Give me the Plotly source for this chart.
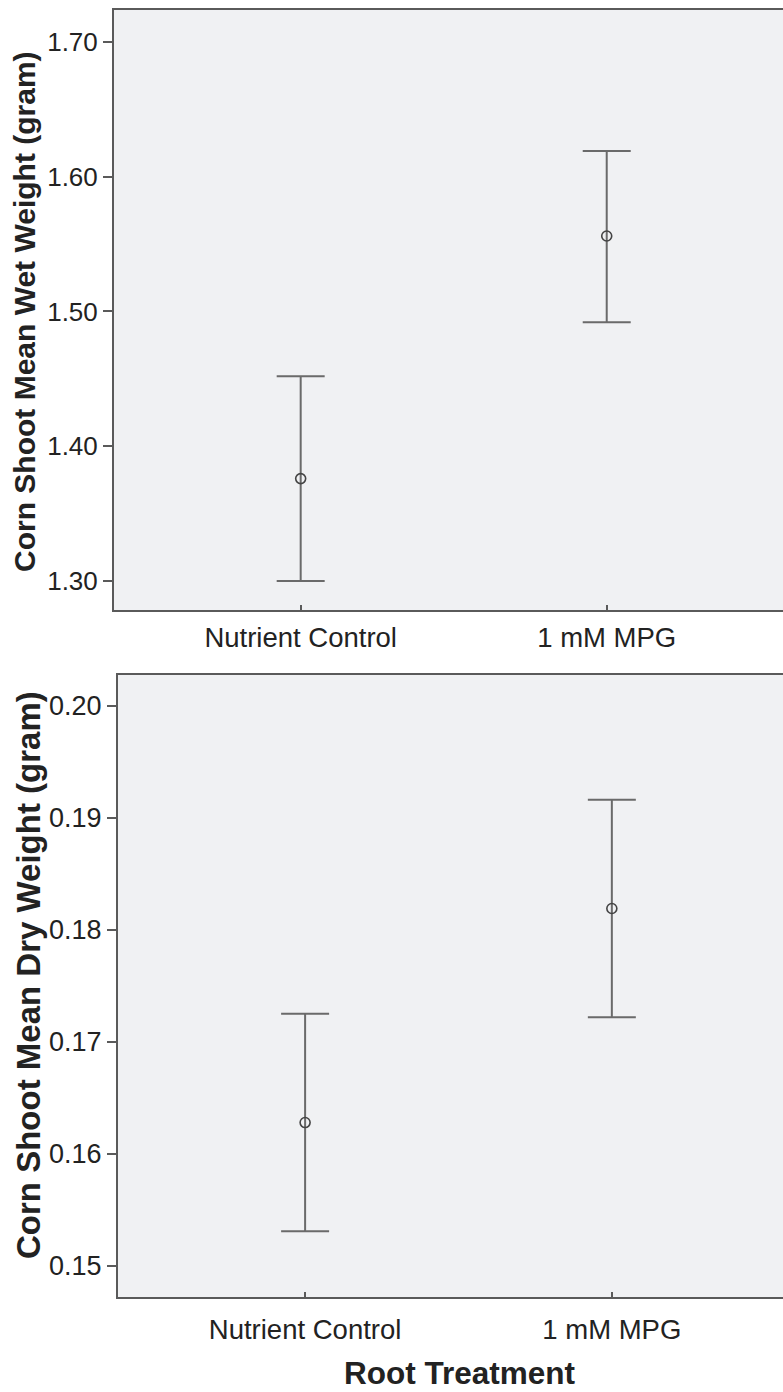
import plotly.graph_objects as go

# Treatment groups and their means with 95% CI bounds
treatments = ["Nutrient Control", "1 mM MPG"]

wet_mean = [1.376, 1.556]
wet_upper = [1.452, 1.619]
wet_lower = [1.300, 1.492]

dry_mean = [0.1628, 0.1819]
dry_upper = [0.1725, 0.1916]
dry_lower = [0.1531, 0.1722]

wet_ticks = [1.30, 1.40, 1.50, 1.60, 1.70]
dry_ticks = [0.15, 0.16, 0.17, 0.18, 0.19, 0.20]

W, H = 783, 1392
FONT = "Liberation Sans, Arial, sans-serif"
TXT = "#222222"
AXC = "#5a5a5a"
BG = "#f0f1f3"


def px_x(x):
    return x / W


def px_y(y):
    return 1 - y / H


def ci_trace(means, upper, lower, xa, ya):
    return go.Scatter(
        x=list(range(len(means))), y=means, xaxis=xa, yaxis=ya,
        mode="markers",
        marker=dict(symbol="circle-open", size=10, color="#444444",
                    line=dict(width=1.6, color="#444444")),
        error_y=dict(type="data", symmetric=False,
                     array=[u - m for u, m in zip(upper, means)],
                     arrayminus=[m - l for m, l in zip(means, lower)],
                     color="#6a6a6a", thickness=2, width=24),
        showlegend=False, hoverinfo="skip",
    )


fig = go.Figure()
fig.add_trace(ci_trace(wet_mean, wet_upper, wet_lower, "x", "y"))
fig.add_trace(ci_trace(dry_mean, dry_upper, dry_lower, "x2", "y2"))

xcommon = dict(tickmode="array", tickvals=list(range(len(treatments))),
               ticktext=treatments, showgrid=False, zeroline=False,
               showline=True, linecolor=AXC, linewidth=2, mirror=True,
               ticks="inside", ticklen=5, tickwidth=1.5, tickcolor=AXC,
               tickfont=dict(family=FONT, size=27.5, color=TXT))
ycommon = dict(tickmode="array", showgrid=False, zeroline=False,
               showline=True, linecolor=AXC, linewidth=2, mirror=False,
               ticks="outside", ticklen=9, tickwidth=1.5, tickcolor=AXC)

fig.update_layout(
    width=W, height=H,
    margin=dict(l=0, r=0, t=0, b=0),
    paper_bgcolor="white", plot_bgcolor=BG,
    xaxis=dict(xcommon, domain=[px_x(114), 1.0], range=[-0.610, 1.576],
               anchor="y", ticklabelstandoff=2),
    yaxis=dict(ycommon, domain=[px_y(610), px_y(10)], range=[1.2785, 1.7237],
               tickvals=wet_ticks, ticktext=[f"{v:.2f}" for v in wet_ticks],
               tickfont=dict(family=FONT, size=26, color=TXT), anchor="x"),
    xaxis2=dict(xcommon, domain=[px_x(118), 1.0], range=[-0.610, 1.558],
                anchor="y2", ticklabelstandoff=7),
    yaxis2=dict(ycommon, domain=[px_y(1297), px_y(675)],
                range=[0.14723, 0.20274],
                tickvals=dry_ticks, ticktext=[f"{v:.2f}" for v in dry_ticks],
                tickfont=dict(family=FONT, size=27, color=TXT), anchor="x2"),
    annotations=[
        dict(text="<b>Corn Shoot Mean Wet Weight (gram)</b>", textangle=-90,
             xref="paper", yref="paper", x=px_x(24), y=px_y(312),
             xanchor="center", yanchor="middle", showarrow=False,
             font=dict(family=FONT, size=30, color=TXT)),
        dict(text="<b>Corn Shoot Mean Dry Weight (gram)</b>", textangle=-90,
             xref="paper", yref="paper", x=px_x(28), y=px_y(975),
             xanchor="center", yanchor="middle", showarrow=False,
             font=dict(family=FONT, size=33, color=TXT)),
        dict(text="<b>Root Treatment</b>",
             xref="paper", yref="paper", x=px_x(460), y=px_y(1373),
             xanchor="center", yanchor="middle", showarrow=False,
             font=dict(family=FONT, size=31.5, color=TXT)),
    ],
)

fig.write_html("out.html")
